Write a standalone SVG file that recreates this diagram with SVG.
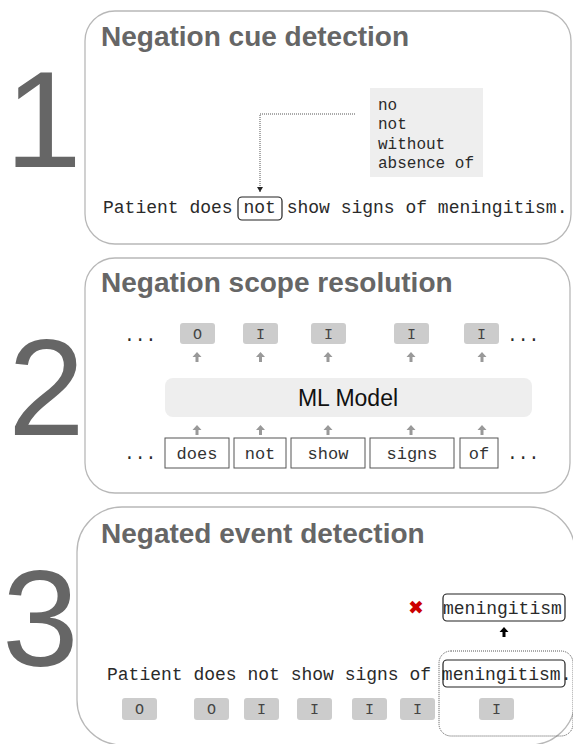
<svg xmlns="http://www.w3.org/2000/svg" width="573" height="744" viewBox="0 0 573 744">
<style>
.panel{fill:#fff;stroke:#b8b8b8;stroke-width:1.3}
.title{font-family:"Liberation Sans",Arial,sans-serif;font-weight:bold;font-size:28px;fill:#666}
.num{font-family:"Liberation Sans",Arial,sans-serif;font-size:138px;fill:#666}
.mono{font-family:"Liberation Mono","Courier New",monospace;fill:#2a2a2a}
.s18{font-size:18px}
.lab{fill:#ccc}
.labt{font-family:"Liberation Mono","Courier New",monospace;font-size:15px;fill:#444;text-anchor:middle}
.tok{fill:#fff;stroke:#555;stroke-width:1}
.tokt{font-family:"Liberation Mono","Courier New",monospace;font-size:17px;fill:#333;text-anchor:middle}
.box{fill:none;stroke:#222;stroke-width:1.2}
.garr{fill:#999}
.dot{fill:none;stroke:#555;stroke-width:1;stroke-dasharray:1 1}
</style>
<defs>
<path id="ga" d="M0,0 L4.5,5 L1.5,5 L1.5,10 L-1.5,10 L-1.5,5 L-4.5,5 Z"/>
<marker id="ah" markerWidth="6" markerHeight="6" refX="5" refY="3" orient="auto" markerUnits="userSpaceOnUse">
<path d="M0,0 L5,3 L0,6 Z" fill="#222"/>
</marker>
</defs>

<g id="step1">
<text class="num" x="5" y="167">1</text>
<rect class="panel" x="85" y="11" width="486" height="233" rx="30"/>
<text class="title" x="101" y="46">Negation cue detection</text>
</g>
<g id="cue-list">
<rect x="370" y="88" width="113" height="89" fill="#eee"/>
<text class="mono" font-size="16" fill="#333" x="378" y="110">no</text>
<text class="mono" font-size="16" fill="#333" x="378" y="129">not</text>
<text class="mono" font-size="16" fill="#333" x="378" y="149">without</text>
<text class="mono" font-size="16" fill="#333" x="378" y="168">absence of</text>
</g>
<g id="sentence1">
<text class="mono s18" x="103" y="213" xml:space="preserve">Patient does not show signs of meningitism.</text>
<rect class="box" x="238" y="197" width="44" height="23" rx="4"/>
</g>

<g id="step2">
<text class="num" x="8" y="435">2</text>
<rect class="panel" x="85" y="258" width="485" height="235" rx="30"/>
<text class="title" x="101" y="292">Negation scope resolution</text>
</g>
<g id="labels2">
<text class="mono s18" fill="#333" x="124" y="341">...</text>
<text class="mono s18" fill="#333" x="507" y="341">...</text>
<rect class="lab" x="180" y="323" width="35" height="21" rx="3"/><text class="labt" x="197.5" y="338.5">O</text>
<rect class="lab" x="243" y="323" width="35" height="21" rx="3"/><text class="labt" x="260.5" y="338.5">I</text>
<rect class="lab" x="311" y="323" width="35" height="21" rx="3"/><text class="labt" x="328.5" y="338.5">I</text>
<rect class="lab" x="394" y="323" width="35" height="21" rx="3"/><text class="labt" x="411.5" y="338.5">I</text>
<rect class="lab" x="464" y="323" width="35" height="21" rx="3"/><text class="labt" x="481.5" y="338.5">I</text>
</g>
<g id="ml-model">
<rect x="165" y="378" width="367" height="39" rx="8" fill="#eee"/>
<text x="348" y="406" text-anchor="middle" font-family="'Liberation Sans',Arial,sans-serif" font-size="23" fill="#111">ML Model</text>
</g>
<g id="tokens2">
<text class="mono s18" fill="#333" x="124" y="459">...</text>
<text class="mono s18" fill="#333" x="507" y="459">...</text>
<rect class="tok" x="165" y="438" width="64" height="30"/><text class="tokt" x="197" y="459">does</text>
<rect class="tok" x="234" y="438" width="52" height="30"/><text class="tokt" x="260" y="459">not</text>
<rect class="tok" x="291" y="438" width="74" height="30"/><text class="tokt" x="328" y="459">show</text>
<rect class="tok" x="370" y="438" width="84" height="30"/><text class="tokt" x="412" y="459">signs</text>
<rect class="tok" x="460" y="438" width="38" height="30"/><text class="tokt" x="479" y="459">of</text>
</g>

<g id="step3">
<text class="num" x="2" y="666">3</text>
<rect class="panel" x="77" y="507" width="498" height="238" rx="45"/>
<text class="title" x="101" y="543">Negated event detection</text>
</g>
<g id="sentence3">
<text class="mono s18" x="107" y="680" xml:space="preserve">Patient does not show signs of meningitism.</text>
<rect class="box" x="443" y="660" width="122" height="27" rx="4"/>
<rect class="lab" x="122" y="698" width="35" height="22" rx="3"/><text class="labt" x="139.5" y="714">O</text>
<rect class="lab" x="194" y="698" width="35" height="22" rx="3"/><text class="labt" x="211.5" y="714">O</text>
<rect class="lab" x="244" y="698" width="35" height="22" rx="3"/><text class="labt" x="261.5" y="714">I</text>
<rect class="lab" x="297" y="698" width="35" height="22" rx="3"/><text class="labt" x="314.5" y="714">I</text>
<rect class="lab" x="352" y="698" width="35" height="22" rx="3"/><text class="labt" x="369.5" y="714">I</text>
<rect class="lab" x="400" y="698" width="35" height="22" rx="3"/><text class="labt" x="417.5" y="714">I</text>
<rect class="lab" x="479" y="698" width="35" height="22" rx="3"/><text class="labt" x="496.5" y="714">I</text>
</g>
<g id="scope-box">
<rect class="dot" x="439" y="651" width="134" height="85" rx="12"/>
</g>
<g id="event">
<text x="416" y="614" text-anchor="middle" font-family="'DejaVu Sans',sans-serif" font-size="19" fill="#c00">✖</text>
<rect class="box" x="443" y="594" width="122" height="27" rx="4"/>
<text class="mono s18" x="443" y="614">meningitism</text>
</g>

<g id="connectors">
<path class="dot" d="M355,114 H260 V192" marker-end="url(#ah)"/>
<use href="#ga" class="garr" x="197" y="352"/>
<use href="#ga" class="garr" x="260.5" y="352"/>
<use href="#ga" class="garr" x="328" y="352"/>
<use href="#ga" class="garr" x="411" y="352"/>
<use href="#ga" class="garr" x="482" y="352"/>
<use href="#ga" class="garr" x="197" y="425"/>
<use href="#ga" class="garr" x="260.5" y="425"/>
<use href="#ga" class="garr" x="328" y="425"/>
<use href="#ga" class="garr" x="411" y="425"/>
<use href="#ga" class="garr" x="482" y="425"/>
<use href="#ga" fill="#000" x="504" y="627"/>
</g>
</svg>
